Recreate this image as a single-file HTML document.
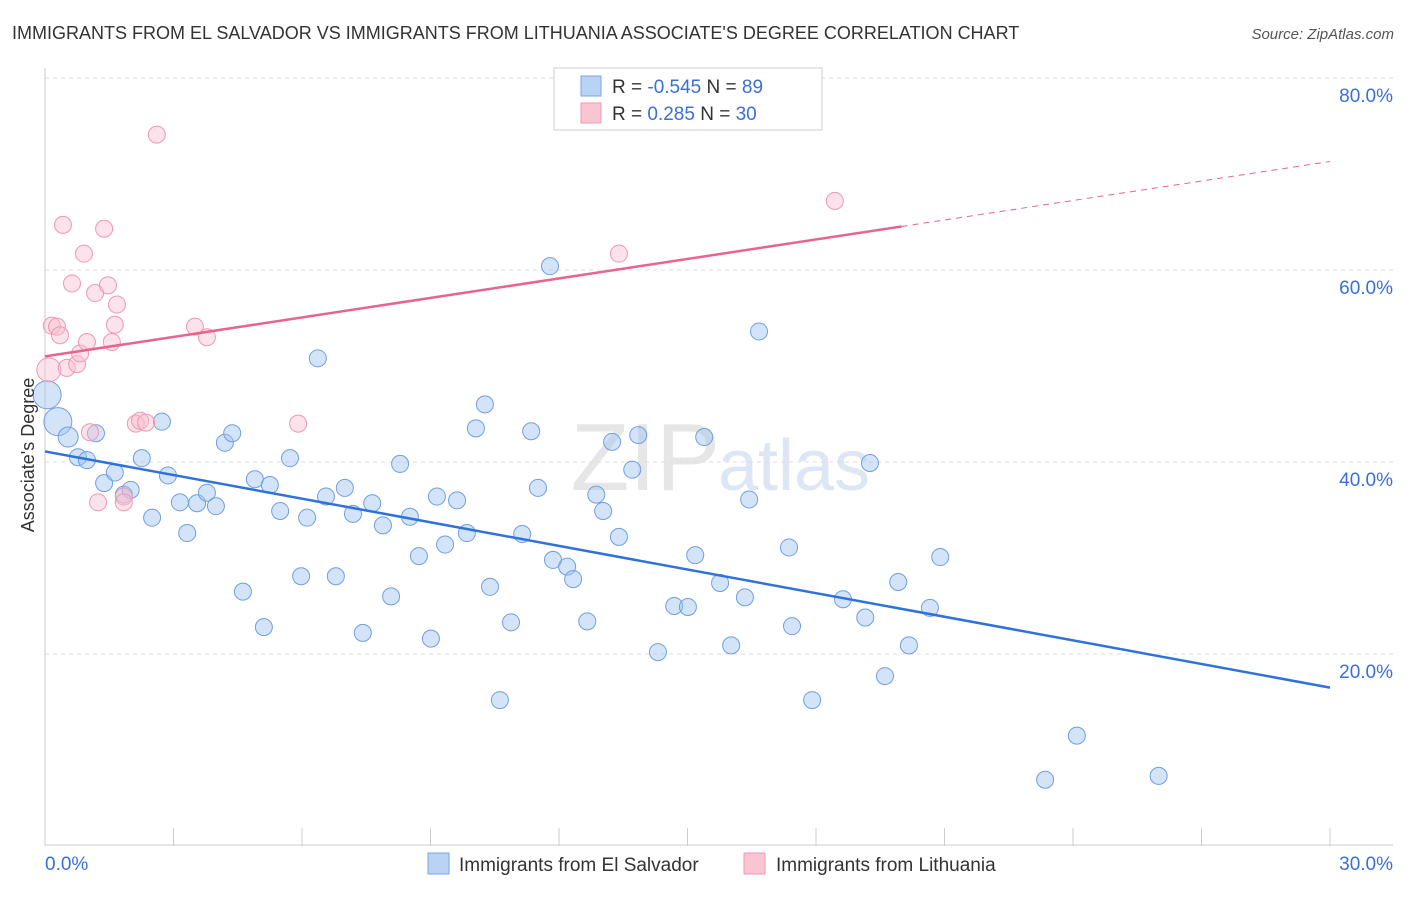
<!DOCTYPE html>
<html><head><meta charset="utf-8"><style>
body{margin:0;background:#fff;font-family:"Liberation Sans",sans-serif;}
svg text{font-family:"Liberation Sans",sans-serif;}
</style></head><body>
<svg id="chart" width="1406" height="892" xmlns="http://www.w3.org/2000/svg">
<text x="12" y="39" font-size="18" fill="#333">IMMIGRANTS FROM EL SALVADOR VS IMMIGRANTS FROM LITHUANIA ASSOCIATE'S DEGREE CORRELATION CHART</text>
<text x="1394" y="39" font-size="15" fill="#555" font-style="italic" text-anchor="end">Source: ZipAtlas.com</text>
<text x="720" y="490" font-size="96" fill="#e6e6e6" text-anchor="end" font-family="Liberation Serif">ZIP</text>
<text x="718" y="490" font-size="72" fill="#dce6f5">atlas</text>
<g id="grid"></g><g id="axes"></g><g id="marks"></g>
<text transform="translate(34,455) rotate(-90)" font-size="18" fill="#333" text-anchor="middle">Associate's Degree</text>
<g>
<rect x="554" y="68" width="268" height="62" fill="#fff" stroke="#ccc"/>
<rect x="581" y="76" width="20" height="20" fill="#b8d3f4" stroke="#7aa5e0"/>
<rect x="581" y="103" width="20" height="20" fill="#f9c5d3" stroke="#ee9ab2"/>
<text x="612" y="93" font-size="19" fill="#333">R = <tspan fill="#3a6fd8">-0.545</tspan>   N = <tspan fill="#3a6fd8">89</tspan></text>
<text x="612" y="120" font-size="19" fill="#333">R =   <tspan fill="#3a6fd8">0.285</tspan>   N = <tspan fill="#3a6fd8">30</tspan></text>
</g>
<g>
<rect x="428" y="853" width="21" height="21" fill="#b8d3f4" stroke="#7aa5e0"/>
<text x="459" y="871" font-size="19" fill="#333">Immigrants from El Salvador</text>
<rect x="744" y="853" width="21" height="21" fill="#f9c5d3" stroke="#ee9ab2"/>
<text x="776" y="871" font-size="19" fill="#333">Immigrants from Lithuania</text>
</g>
</svg>
<script>
const blueX=[0.05,0.3,0.54,0.77,0.98,1.19,1.38,1.63,1.84,2.0,2.26,2.5,2.73,2.87,3.15,3.32,3.55,3.78,3.99,4.2,4.37,4.62,4.9,5.11,5.25,5.49,5.72,5.98,6.12,6.37,6.56,6.79,7.0,7.19,7.42,7.64,7.89,8.08,8.29,8.52,8.73,9.01,9.15,9.34,9.62,9.85,10.06,10.27,10.39,10.62,10.88,11.14,11.35,11.51,11.79,11.86,12.19,12.33,12.66,12.87,13.03,13.24,13.4,13.71,13.85,14.31,14.69,15.01,15.18,15.39,15.76,16.02,16.34,16.44,16.67,17.37,17.44,17.91,18.63,19.15,19.26,19.61,19.92,20.17,20.66,20.9,23.35,24.09,26.0];
const blueY=[47.0,44.2,42.6,40.5,40.2,43.0,37.8,38.9,36.6,37.1,40.4,34.2,44.2,38.6,35.8,32.6,35.7,36.8,35.4,42.0,43.0,26.5,38.2,22.8,37.6,34.9,40.4,28.1,34.2,50.8,36.4,28.1,37.3,34.6,22.2,35.7,33.4,26.0,39.8,34.3,30.2,21.6,36.4,31.4,36.0,32.6,43.5,46.0,27.0,15.2,23.3,32.5,43.2,37.3,60.4,29.8,29.1,27.8,23.4,36.6,34.9,42.1,32.2,39.2,42.8,20.2,25.0,24.9,30.3,42.6,27.4,20.9,25.9,36.1,53.6,31.1,22.9,15.2,25.7,23.8,39.9,17.7,27.5,20.9,24.8,30.1,6.9,11.5,7.3];
const pinkX=[0.09,0.16,0.28,0.35,0.42,0.51,0.63,0.75,0.82,0.91,0.98,1.05,1.17,1.24,1.38,1.47,1.56,1.63,1.68,1.84,1.84,2.12,2.22,2.36,2.61,3.5,3.78,5.91,13.4,18.44];
const pinkY=[49.6,54.2,54.1,53.2,64.7,49.8,58.6,50.2,51.3,61.7,52.5,43.1,57.6,35.8,64.3,58.4,52.5,54.3,56.4,36.4,35.8,44.0,44.3,44.1,74.1,54.1,53.0,44.0,61.7,67.2];
const yTicks=[20,40,60,80];
const xTickLabels=["0.0%","30.0%"];
const blueTrend=[41.1,16.5];
const pinkTrend=[51.0,71.3];
const pinkSolidEnd=20;
const NS="http://www.w3.org/2000/svg";
const X=v=>45+v/30*1285, Y=v=>846-v*9.6;
function mk(t,a,p){const e=document.createElementNS(NS,t);for(const k in a)e.setAttribute(k,a[k]);p.appendChild(e);return e;}
const grid=document.getElementById('grid'),axes=document.getElementById('axes'),marks=document.getElementById('marks');
yTicks.forEach(t=>{
 const l=mk('line',{x1:45,x2:1393,y1:Y(t),y2:Y(t),stroke:'#ddd','stroke-dasharray':'4,4'},grid);
 
 
 const tx=mk('text',{x:1393,y:Y(t)+24,'font-size':19,fill:'#3a6fd8','text-anchor':'end'},axes);
 tx.textContent=t.toFixed(1)+'%';
 
 
});
mk('line',{x1:45,x2:45,y1:68,y2:846,stroke:'#ccc'},axes);
mk('line',{x1:45,x2:1393,y1:845,y2:845,stroke:'#ccc'},axes);
for(let i=0;i<=10;i++){mk('line',{x1:X(i*3),x2:X(i*3),y1:828,y2:846,stroke:'#ccc'},axes);}
[[0,'start'],[30,'end']].forEach((p,i)=>{
 const tx=mk('text',{x:p[0]==0?45:1393,y:870,'font-size':19,fill:'#3a6fd8','text-anchor':p[1]},axes);
 tx.textContent=xTickLabels[i];
 
 
});
blueX.forEach((x,i)=>{
 const r=i<2?14:(i<3?10:8.5);
 const c=mk('circle',{cx:X(x),cy:Y(blueY[i]),r:r,fill:'rgba(160,195,240,0.45)',stroke:'#6f9fe0','stroke-width':1},marks);
 
 
});
pinkX.forEach((x,i)=>{
 const r=i==0?12:8.5;
 const c=mk('circle',{cx:X(x),cy:Y(pinkY[i]),r:r,fill:'rgba(248,190,208,0.45)',stroke:'#ee98b2','stroke-width':1},marks);
 
 
});
const bl=mk('line',{x1:X(0),y1:Y(blueTrend[0]),x2:X(30),y2:Y(blueTrend[1]),stroke:'#2f72d8','stroke-width':2.5},marks);


const pm=pinkTrend[0]+(pinkTrend[1]-pinkTrend[0])*pinkSolidEnd/30;
const pl=mk('line',{x1:X(0),y1:Y(pinkTrend[0]),x2:X(pinkSolidEnd),y2:Y(pm),stroke:'#e8648e','stroke-width':2.5},marks);


const pd=mk('line',{x1:X(pinkSolidEnd),y1:Y(pm),x2:X(30),y2:Y(pinkTrend[1]),stroke:'#e8648e','stroke-width':1,'stroke-dasharray':'6,5'},marks);


</script>
</body></html>
